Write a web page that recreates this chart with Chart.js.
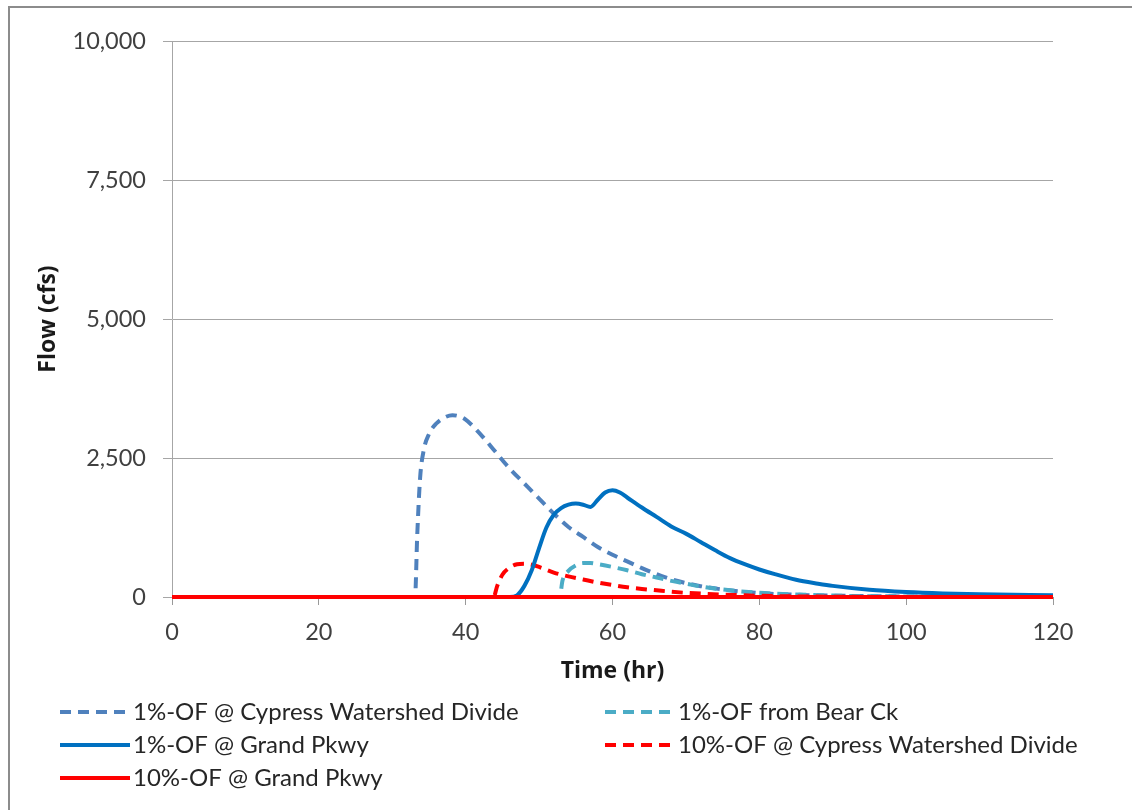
<!DOCTYPE html>
<html>
<head>
<meta charset="utf-8">
<script src="https://cdn.jsdelivr.net/npm/chart.js@4/dist/chart.umd.min.js"></script>
<style>
  html, body { margin: 0; padding: 0; background: #ffffff; }
  #wrap { width: 1132px; height: 810px; position: relative; }
</style>
</head>
<body>
<div id="wrap"><canvas id="c" width="1132" height="810"></canvas></div>
<script>
// ---- Data ----
const seriesLabels = [
  "1%-OF @ Cypress Watershed Divide",
  "1%-OF from Bear Ck",
  "1%-OF @ Grand Pkwy",
  "10%-OF @ Cypress Watershed Divide",
  "10%-OF @ Grand Pkwy"
];

const cypress1Time  = [0, 33.1, 33.4, 33.8, 34.3, 35, 36, 37, 38.2, 39, 40, 42, 44, 46, 48, 50, 52, 54, 56, 58, 60, 62, 64, 66, 68, 70, 72, 75, 80, 85, 90, 100, 110, 120];
const cypress1Flow  = [0, 0, 1100, 2150, 2650, 2930, 3120, 3220, 3270, 3255, 3190, 2930, 2620, 2310, 2040, 1770, 1500, 1260, 1080, 900, 760, 640, 520, 410, 320, 250, 195, 135, 70, 40, 25, 10, 5, 0];

const bearCk1Time   = [0, 52.8, 53.2, 54, 55, 56, 57, 58, 60, 62, 64, 66, 68, 70, 72, 75, 80, 85, 90, 100, 120];
const bearCk1Flow   = [0, 0, 300, 470, 570, 610, 610, 590, 540, 480, 410, 350, 290, 240, 190, 135, 75, 45, 25, 10, 0];

const grand1Time    = [0, 46, 47, 48, 49, 50, 51, 52, 53, 54, 55, 56, 57, 58, 59, 60, 61, 62, 64, 66, 68, 70, 72, 74, 76, 78, 80, 82, 85, 88, 90, 95, 100, 105, 110, 120];
const grand1Flow    = [0, 0, 30, 200, 480, 880, 1250, 1480, 1600, 1660, 1680, 1660, 1620, 1750, 1880, 1920, 1880, 1790, 1610, 1440, 1270, 1140, 990, 840, 700, 590, 495, 415, 310, 240, 200, 130, 90, 65, 50, 30];

const cypress10Time = [0, 43.8, 44.3, 45, 46, 47, 48, 49, 50, 52, 54, 56, 58, 60, 62, 64, 66, 68, 70, 73, 76, 80, 85, 90, 100, 120];
const cypress10Flow = [0, 0, 200, 400, 530, 590, 600, 580, 540, 440, 370, 315, 260, 215, 175, 145, 120, 95, 75, 55, 38, 22, 10, 5, 0, 0];

const grand10Time   = [0, 40, 60, 80, 100, 120];
const grand10Flow   = [0, 0, 0, 0, 0, 0];

const xTicksStep = 20;
const yTicksStep = 2500;
const xTitle = "Time (hr)";
const yTitle = "Flow (cfs)";

// ---- Styles ----
const seriesColors = ["#4F81BD", "#4BACC6", "#0070C0", "#FF0000", "#FF0000"];
const seriesDashed = [true, true, false, true, false];
const FONT = "Lato, 'Open Sans', sans-serif";
const TITLE_FONT = "'Open Sans', Lato, sans-serif";

function pts(t, v) { return t.map((x, i) => ({ x: x, y: v[i] })); }
const seriesData = [
  pts(cypress1Time, cypress1Flow),
  pts(bearCk1Time, bearCk1Flow),
  pts(grand1Time, grand1Flow),
  pts(cypress10Time, cypress10Flow),
  pts(grand10Time, grand10Flow)
];
const drawOrder = [4, 3, 1, 2, 0]; // lower = drawn on top

const datasets = seriesLabels.map((lab, i) => ({
  label: lab,
  data: seriesData[i],
  borderColor: seriesColors[i],
  backgroundColor: seriesColors[i],
  borderWidth: 4,
  borderDash: seriesDashed[i] ? [11, 7] : [],
  borderCapStyle: 'butt',
  pointRadius: 0,
  pointHoverRadius: 0,
  fill: false,
  cubicInterpolationMode: 'monotone',
  order: drawOrder[i],
  clip: false
}));

const bgPlugin = {
  id: 'frameAndLegend',
  beforeDraw(chart) {
    const ctx = chart.ctx;
    ctx.save();
    ctx.fillStyle = '#ffffff';
    ctx.fillRect(0, 0, chart.width, chart.height);
    ctx.strokeStyle = '#8C8C8C';
    ctx.lineWidth = 2;
    ctx.beginPath();
    ctx.moveTo(9, chart.height + 5);
    ctx.lineTo(9, 7);
    ctx.lineTo(chart.width + 5, 7);
    ctx.stroke();
    ctx.restore();
  },
  afterDraw(chart) {
    const ctx = chart.ctx;
    const colX = [60, 605];
    const rowY = [712, 745, 778];
    const layout = [[0, 0], [1, 0], [0, 1], [1, 1], [0, 2]];
    ctx.save();
    ctx.font = "24px " + FONT;
    ctx.textBaseline = 'middle';
    ctx.textAlign = 'left';
    chart.data.datasets.forEach((ds, i) => {
      const [c, r] = layout[i];
      const x0 = colX[c], y = rowY[r];
      ctx.strokeStyle = ds.borderColor;
      ctx.lineWidth = 4;
      ctx.setLineDash(ds.borderDash || []);
      ctx.lineCap = 'butt';
      ctx.beginPath();
      ctx.moveTo(x0, y);
      ctx.lineTo(x0 + 70, y);
      ctx.stroke();
      ctx.setLineDash([]);
      ctx.fillStyle = '#262626';
      ctx.fillText(ds.label, x0 + 73, y);
    });
    ctx.restore();
  }
};

new Chart(document.getElementById('c'), {
  type: 'line',
  data: { datasets: datasets },
  options: {
    responsive: false,
    animation: false,
    layout: { padding: { left: 0, top: 41, right: 79, bottom: 0 } },
    plugins: { legend: { display: false }, tooltip: { enabled: false } },
    scales: {
      x: {
        type: 'linear',
        min: 0, max: 120,
        afterFit(s) { s.height = 213; },
        ticks: { stepSize: xTicksStep, color: '#404040', font: { family: FONT, size: 23.5 }, padding: 13, maxRotation: 0 },
        grid: { drawOnChartArea: false, drawTicks: true, tickLength: 8, color: '#999999', lineWidth: 1 },
        border: { display: true, color: '#999999', width: 1 },
        title: { display: true, text: xTitle, color: '#1a1a1a', font: { family: TITLE_FONT, size: 23, weight: 'bold' }, padding: { top: 0, bottom: 125 } }
      },
      y: {
        min: 0, max: 10000,
        afterFit(s) { s.width = 172; },
        ticks: { stepSize: yTicksStep, color: '#404040', font: { family: FONT, size: 23.5 }, padding: 17 },
        grid: { drawOnChartArea: true, drawTicks: true, tickLength: 9, color: '#A6A6A6', lineWidth: 1 },
        border: { display: true, color: '#A6A6A6', width: 1 },
        title: { display: true, text: yTitle, color: '#1a1a1a', font: { family: TITLE_FONT, size: 23, weight: 'bold' }, padding: { top: 35, bottom: 0 } }
      }
    }
  },
  plugins: [bgPlugin]
});
</script>
</body>
</html>
